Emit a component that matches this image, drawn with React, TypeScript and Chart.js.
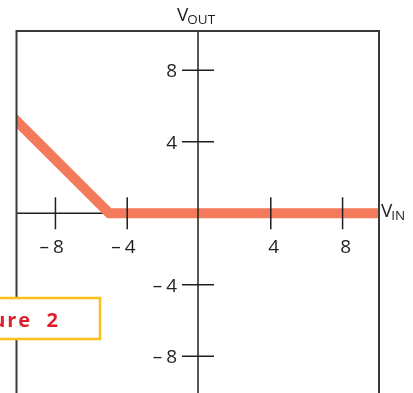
import React, { useEffect, useRef } from "react";
import { Chart, registerables } from "chart.js";

Chart.register(...registerables);

// ---- data ----
const vIn = [-11, -5, 11];
const vOut = [6, 0, 0];
const xTicks = [-8, -4, 4, 8];
const yTicks = [8, 4, -4, -8];
const xAxisLabel = ["V", "IN"];
const yAxisLabel = ["V", "OUT"];
const figureLabel = "Figure  2";

const FONT = '"Open Sans", "DejaVu Sans", sans-serif';
const INK = "#231f20";
const ORANGE = "#f37a5a";
const YELLOW = "#fdbf1a";
const RED = "#e31e2c";

const overlay = {
  id: "overlay",
  beforeDatasetsDraw(chart: any) {
    const { ctx, chartArea, scales } = chart;
    const y0 = scales.y.getPixelForValue(0);
    ctx.save();
    ctx.strokeStyle = INK;
    ctx.lineWidth = 1.5;
    ctx.beginPath();
    ctx.moveTo(chartArea.left, y0);
    ctx.lineTo(chartArea.right, y0);
    ctx.stroke();
    ctx.restore();
  },
  afterDatasetsDraw(chart: any) {
    const { ctx, chartArea, scales } = chart;
    const xs = scales.x;
    const ys = scales.y;
    const x0 = xs.getPixelForValue(0) - 1;
    const y0 = ys.getPixelForValue(0);
    ctx.save();
    // vertical axis
    ctx.strokeStyle = INK;
    ctx.lineWidth = 1.5;
    ctx.beginPath();
    ctx.moveTo(x0, chartArea.top);
    ctx.lineTo(x0, chartArea.bottom);
    ctx.stroke();
    // frame: top, left, right
    ctx.strokeStyle = "#3a3a3a";
    ctx.lineWidth = 2;
    ctx.beginPath();
    ctx.moveTo(chartArea.left, chartArea.bottom);
    ctx.lineTo(chartArea.left, chartArea.top);
    ctx.lineTo(chartArea.right, chartArea.top);
    ctx.lineTo(chartArea.right, chartArea.bottom);
    ctx.stroke();
    // ticks
    ctx.strokeStyle = INK;
    ctx.lineWidth = 1.5;
    const T = 16;
    ctx.beginPath();
    xTicks.forEach((v) => {
      const px = xs.getPixelForValue(v);
      ctx.moveTo(px, y0 - T);
      ctx.lineTo(px, y0 + T);
    });
    yTicks.forEach((v) => {
      const py = ys.getPixelForValue(v);
      ctx.moveTo(x0 - T, py);
      ctx.lineTo(x0 + T, py);
    });
    ctx.stroke();
    // tick labels
    ctx.fillStyle = INK;
    ctx.font = `19px ${FONT}`;
    ctx.textBaseline = "alphabetic";
    xTicks.forEach((v) => {
      const px = xs.getPixelForValue(v);
      const s = String(Math.abs(v));
      const w = ctx.measureText(s).width;
      const left = px + 3 - w / 2;
      ctx.textAlign = "left";
      ctx.fillText(s, left, y0 + 40);
      if (v < 0) {
        ctx.textAlign = "right";
        ctx.fillText("\u2013", left - 4, y0 + 40);
      }
    });
    yTicks.forEach((v) => {
      const py = ys.getPixelForValue(v);
      const s = String(Math.abs(v));
      const w = ctx.measureText(s).width;
      const right = x0 - 21;
      ctx.textAlign = "right";
      ctx.fillText(s, right, py + 7);
      if (v < 0) {
        ctx.fillText("\u2013", right - w - 4, py + 7);
      }
    });
    // axis names with subscripts
    const drawSub = (parts: string[], x: number, base: number) => {
      ctx.textAlign = "left";
      ctx.font = `19px ${FONT}`;
      ctx.fillText(parts[0], x, base);
      const w = ctx.measureText(parts[0]).width;
      ctx.font = `13.5px ${FONT}`;
      ctx.fillText(parts[1], x + w - 1, base + 3);
    };
    drawSub(yAxisLabel, x0 - 21, chartArea.top - 10);
    drawSub(xAxisLabel, chartArea.right + 2, y0 + 4);
    // figure label box
    const bx0 = -60, bx1 = 100, by0 = 298, by1 = 339;
    ctx.fillStyle = "#ffffff";
    ctx.fillRect(bx0, by0, bx1 - bx0, by1 - by0);
    ctx.strokeStyle = YELLOW;
    ctx.lineWidth = 2.5;
    ctx.strokeRect(bx0, by0, bx1 - bx0, by1 - by0);
    ctx.fillStyle = RED;
    ctx.font = `bold 20px ${FONT}`;
    (ctx as any).letterSpacing = "2px";
    ctx.textAlign = "right";
    ctx.fillText(figureLabel, 60, 327);
    ctx.restore();
  },
};

export default function App() {
  const ref = useRef<HTMLCanvasElement>(null);
  useEffect(() => {
    if (!ref.current) return;
    const chart = new Chart(ref.current, {
      type: "line",
      data: {
        datasets: [
          {
            data: vIn.map((x, i) => ({ x, y: vOut[i] })),
            borderColor: ORANGE,
            borderWidth: 10,
            pointRadius: 0,
            borderJoinStyle: "miter",
            borderCapStyle: "butt",
            tension: 0,
            clip: 0,
          } as any,
        ],
      },
      options: {
        responsive: false,
        animation: false,
        events: [],
        layout: { padding: { left: 16.5, right: 34, top: 31, bottom: 0 } },
        scales: {
          x: { type: "linear", min: -10.17, max: 10.03, display: false },
          y: { type: "linear", min: -10.05, max: 10.2, display: false },
        },
        plugins: { legend: { display: false }, tooltip: { enabled: false } },
      },
      plugins: [overlay],
    });
    return () => chart.destroy();
  }, []);
  return (
    <div style={{ position: "fixed", left: 0, top: 0, width: 413, height: 393, background: "#fff" }}>
      <canvas ref={ref} width={413} height={393} style={{ display: "block" }} />
    </div>
  );
}
